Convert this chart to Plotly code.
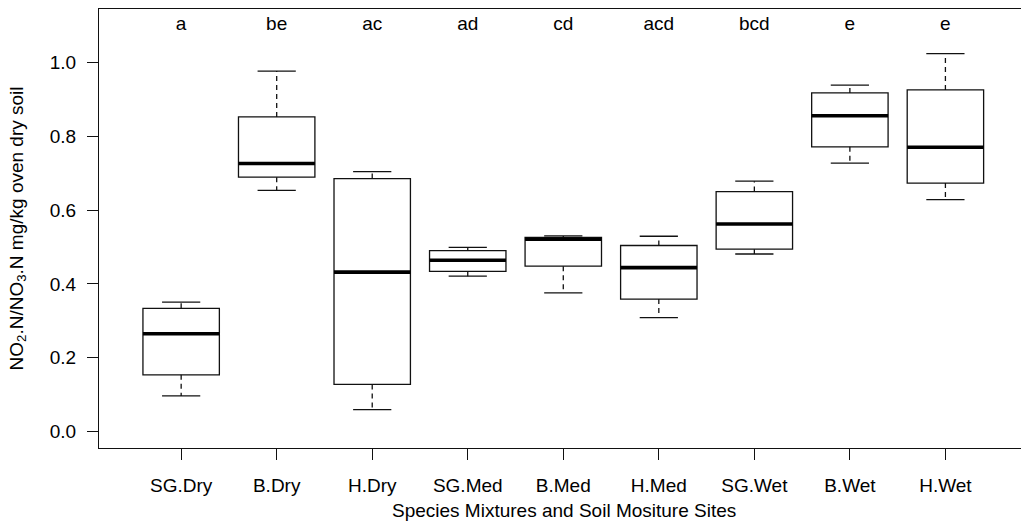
import plotly.graph_objects as go

# ---- data ----
categories = ["SG.Dry", "B.Dry", "H.Dry", "SG.Med", "B.Med", "H.Med", "SG.Wet", "B.Wet", "H.Wet"]
lower_whisker = [0.097, 0.653, 0.060, 0.421, 0.376, 0.309, 0.481, 0.727, 0.628]
q1 = [0.154, 0.689, 0.128, 0.434, 0.448, 0.359, 0.494, 0.771, 0.673]
median = [0.265, 0.726, 0.432, 0.464, 0.521, 0.444, 0.562, 0.855, 0.770]
q3 = [0.334, 0.852, 0.685, 0.490, 0.526, 0.504, 0.650, 0.917, 0.925]
upper_whisker = [0.351, 0.976, 0.704, 0.499, 0.530, 0.529, 0.678, 0.938, 1.023]
letters = ["a", "be", "ac", "ad", "cd", "acd", "bcd", "e", "e"]
letter_y = 1.1
y_ticks = [0, 0.2, 0.4, 0.6, 0.8, 1.0]
y_tick_labels = ["0.0", "0.2", "0.4", "0.6", "0.8", "1.0"]

# ---- styling ----
FONT = "Liberation Sans, Arial, Helvetica, sans-serif"
FS = 19
BOX_W = 0.8
CAP_W = 0.4
LINE = "#111111"
# the page body has an 8px default margin; the figure is sized to fit inside it
W, H = 1021, 518
ML, MR, MT, MB = 91, 0, 1, 78
PLOT_H = H - MT - MB

positions = list(range(1, len(categories) + 1))

fig = go.Figure()

# box bodies
fig.add_trace(go.Box(
    x=positions, q1=q1, median=median, q3=q3,
    lowerfence=q1, upperfence=q3,
    width=BOX_W, whiskerwidth=0,
    fillcolor="white", line=dict(color=LINE, width=1.3),
    boxpoints=False, showlegend=False, hoverinfo="skip",
))

# dashed whiskers
wx, wy = [], []
for p, lo, a, b, hi in zip(positions, lower_whisker, q1, q3, upper_whisker):
    wx += [p, p, None, p, p, None]
    wy += [a, lo, None, b, hi, None]
fig.add_trace(go.Scatter(x=wx, y=wy, mode="lines",
                         line=dict(color=LINE, width=1.3, dash="5px,4px"),
                         showlegend=False, hoverinfo="skip"))

# whisker caps
cx, cy = [], []
for p, lo, hi in zip(positions, lower_whisker, upper_whisker):
    cx += [p - CAP_W / 2, p + CAP_W / 2, None, p - CAP_W / 2, p + CAP_W / 2, None]
    cy += [lo, lo, None, hi, hi, None]
fig.add_trace(go.Scatter(x=cx, y=cy, mode="lines",
                         line=dict(color=LINE, width=1.3),
                         showlegend=False, hoverinfo="skip"))

# thick medians
mx, my = [], []
for p, m in zip(positions, median):
    mx += [p - BOX_W / 2, p + BOX_W / 2, None]
    my += [m, m, None]
fig.add_trace(go.Scatter(x=mx, y=my, mode="lines",
                         line=dict(color="black", width=3.6),
                         showlegend=False, hoverinfo="skip"))

# group letters
fig.add_trace(go.Scatter(x=positions, y=[letter_y] * len(positions), mode="text",
                         text=letters, textposition="middle center",
                         textfont=dict(family=FONT, size=FS, color="black"),
                         showlegend=False, hoverinfo="skip"))

fig.update_layout(
    width=W, height=H,
    margin=dict(l=ML, r=MR, t=MT, b=MB),
    paper_bgcolor="white", plot_bgcolor="white",
    font=dict(family=FONT, size=FS, color="black"),
    showlegend=False,
    annotations=[
        dict(text="Species Mixtures and Soil Mositure Sites", xref="paper", yref="paper",
             x=0.5, y=-62 / PLOT_H, xanchor="center", yanchor="middle", showarrow=False,
             font=dict(family=FONT, size=FS)),
        dict(text="NO<sub>2</sub>.N/NO<sub>3</sub>.N mg/kg oven dry soil", xref="paper", yref="paper",
             x=-82 / (W - ML - MR), y=0.5, xanchor="center", yanchor="middle", textangle=-90,
             showarrow=False, font=dict(family=FONT, size=FS)),
    ],
)

fig.update_xaxes(
    range=[0.14, 9.875],
    tickmode="array", tickvals=positions, ticktext=categories,
    ticks="outside", ticklen=11, tickwidth=1.2, tickcolor=LINE,
    showline=True, linecolor=LINE, linewidth=1.3, mirror=True,
    showgrid=False, zeroline=False, ticklabelstandoff=9,
)
fig.update_yaxes(
    range=[-0.044, 1.144],
    tickmode="array", tickvals=y_ticks, ticktext=y_tick_labels,
    ticks="outside", ticklen=11, tickwidth=1.2, tickcolor=LINE,
    showline=True, linecolor=LINE, linewidth=1.3, mirror=False,
    showgrid=False, zeroline=False, ticklabelstandoff=7,
)

fig.write_html("out.html")
